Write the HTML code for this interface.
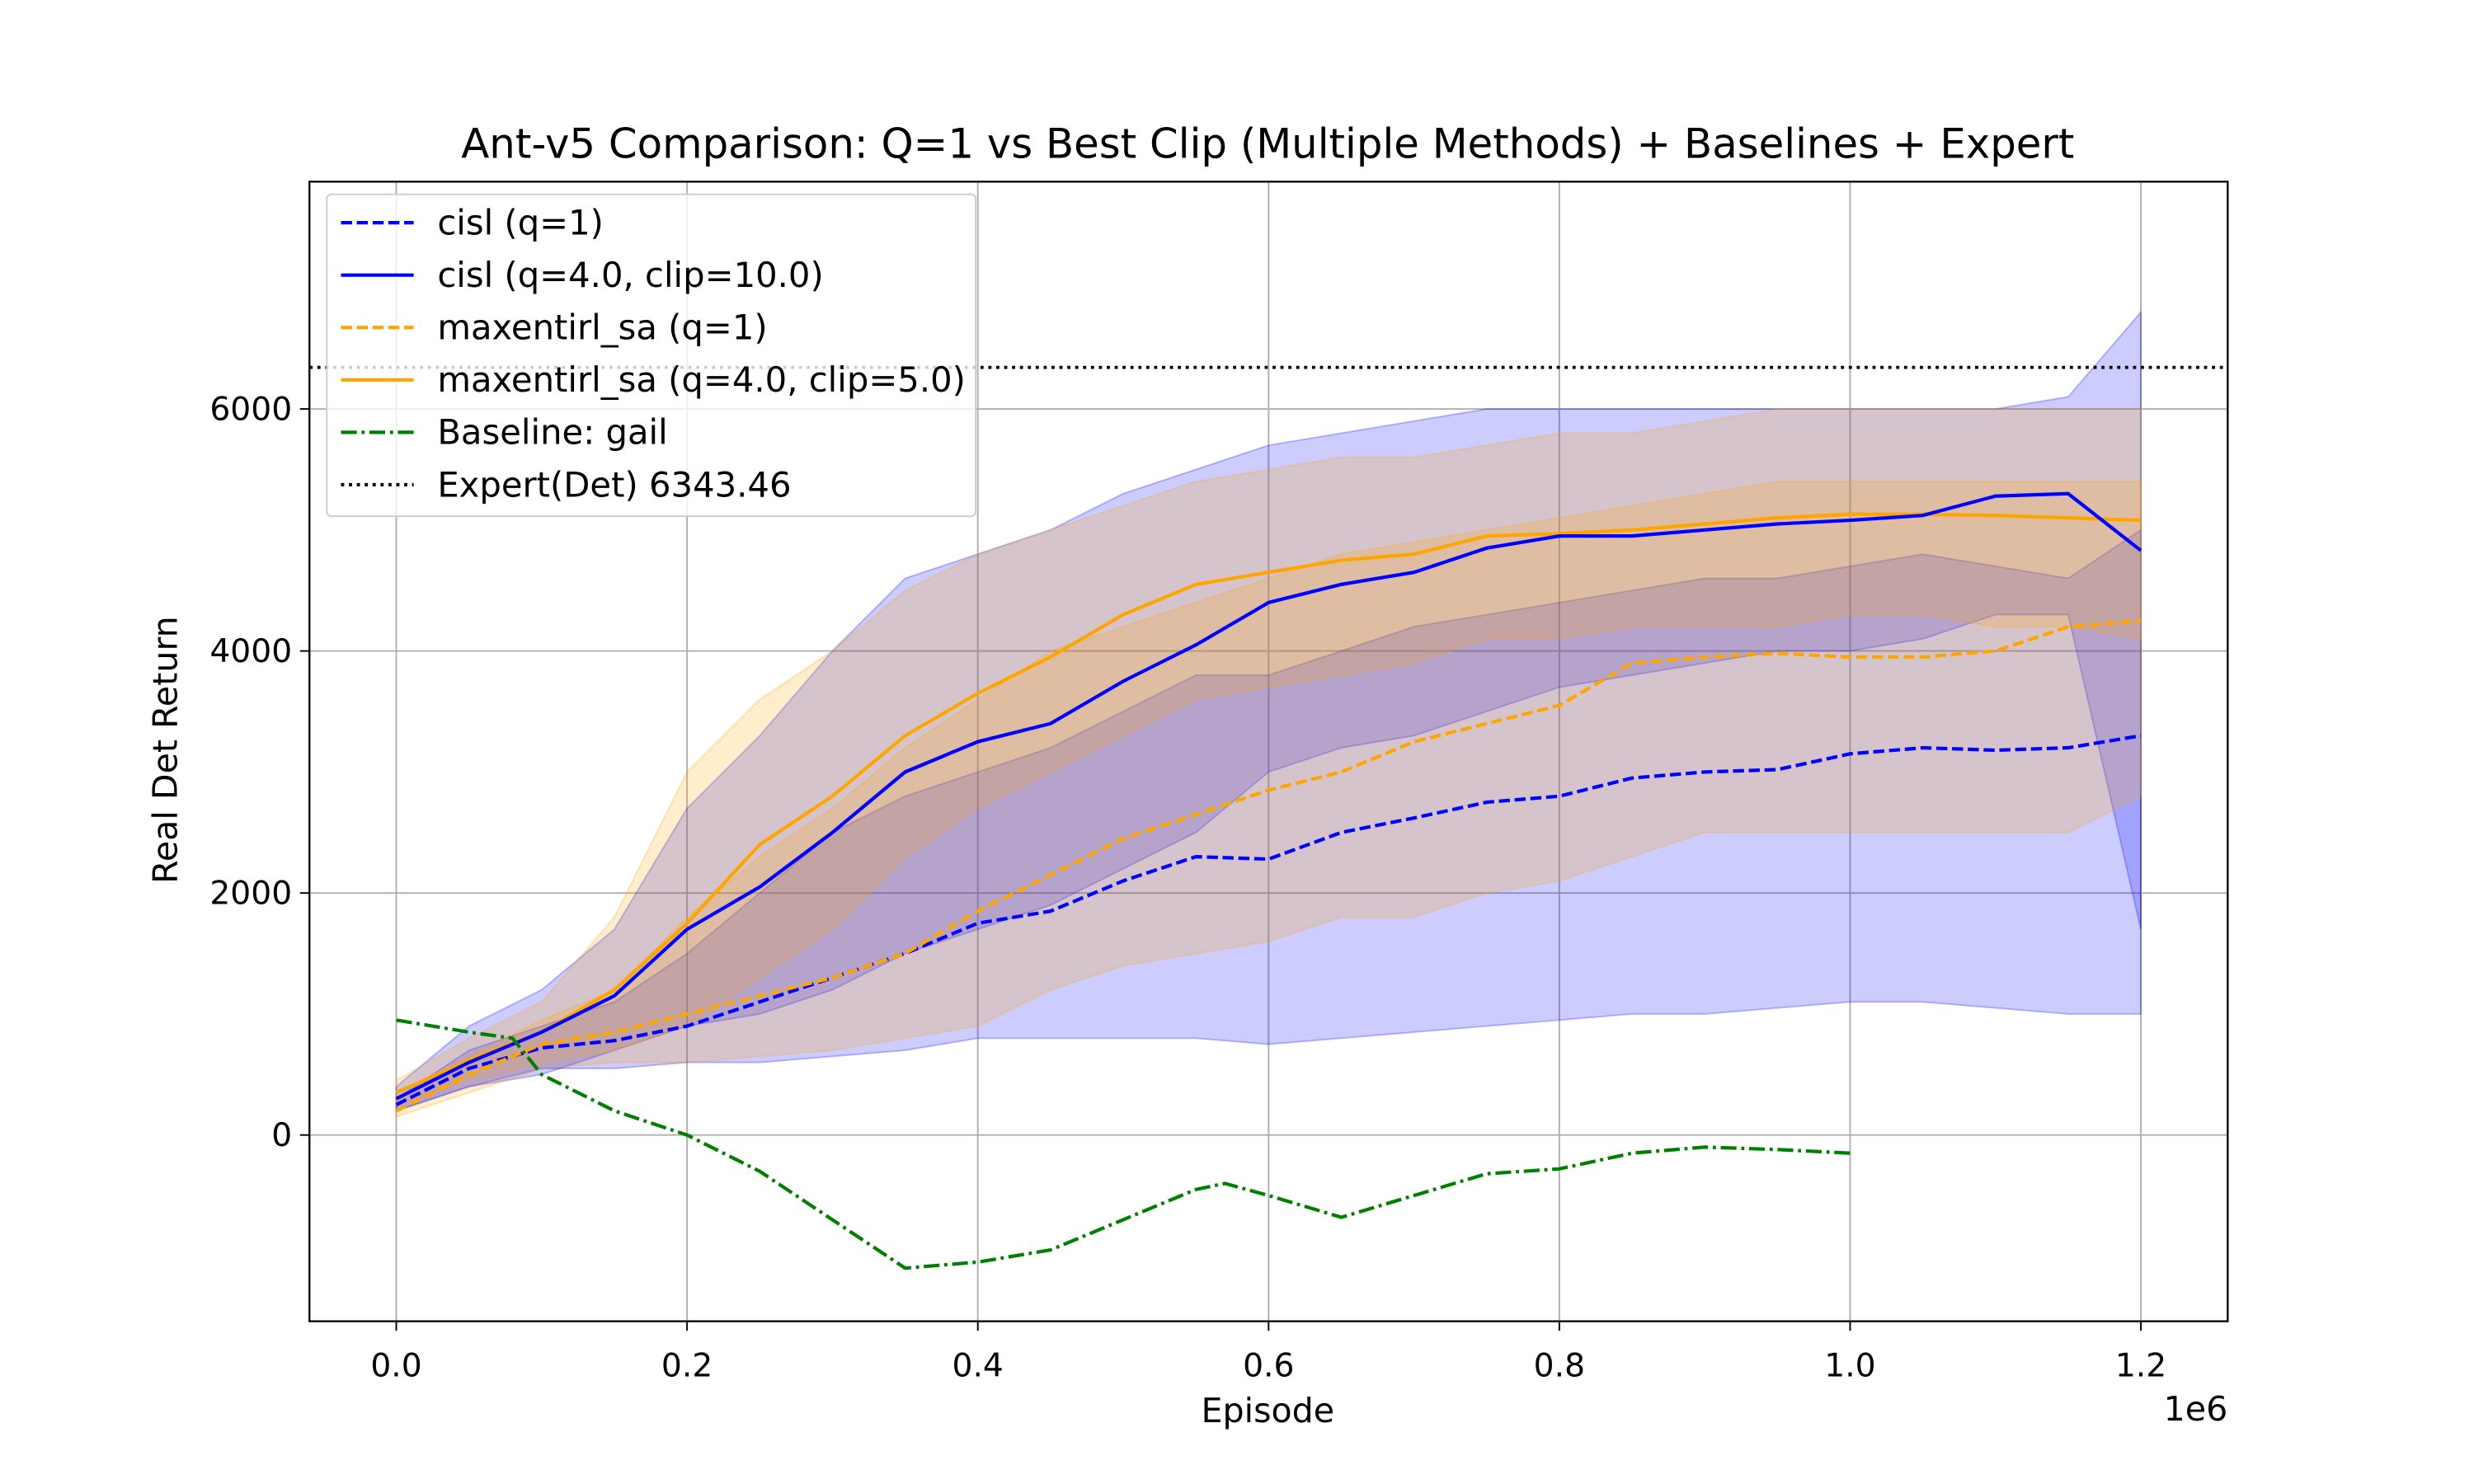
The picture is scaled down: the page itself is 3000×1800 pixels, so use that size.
<!DOCTYPE html>
<html><head><meta charset="utf-8"><style>html,body{margin:0;padding:0;background:#fff}svg{display:block}text{font-family:"DejaVu Sans","Liberation Sans",sans-serif;fill:#000}</style></head>
<body>
<svg id="chart" width="3000" height="1800" viewBox="0 0 1567 940" xmlns="http://www.w3.org/2000/svg">
<rect x="0" y="0" width="1567" height="940" fill="#fff"/>
<g id="grid"></g>
<g id="bands"></g>
<g id="lines"></g>
<rect x="196" y="115" width="1215" height="722" fill="none" stroke="#000" stroke-width="1.2"/>
<g id="ticks"></g>
<text x="803" y="100" font-size="26" text-anchor="middle">Ant-v5 Comparison: Q=1 vs Best Clip (Multiple Methods) + Baselines + Expert</text>
<text x="803" y="901" font-size="21.5" text-anchor="middle">Episode</text>
<text x="1411" y="900" font-size="21.5" text-anchor="end">1e6</text>
<text x="112" y="475" font-size="21.5" text-anchor="middle" transform="rotate(-90 112 475)">Real Det Return</text>
<g id="legend"></g>
</svg>
<script>
const xGrid = [0,0.05,0.1,0.15,0.2,0.25,0.3,0.35,0.4,0.45,0.5,0.55,0.6,0.65,0.7,0.75,0.8,0.85,0.9,0.95,1.0,1.05,1.1,1.15,1.2];
const cislQ4Mean = [300,600,850,1150,1700,2050,2500,3000,3250,3400,3750,4050,4400,4550,4650,4850,4950,4950,5000,5050,5080,5120,5280,5300,4830];
const cislQ1Mean = [250,550,720,780,900,1100,1300,1500,1750,1850,2100,2300,2280,2500,2620,2750,2800,2950,3000,3020,3150,3200,3180,3200,3300];
const maxQ4Mean = [350,620,850,1200,1750,2400,2800,3300,3650,3950,4300,4550,4650,4750,4800,4950,4970,5000,5050,5100,5130,5130,5120,5100,5080];
const maxQ1Mean = [200,500,750,850,1000,1150,1300,1500,1850,2150,2450,2650,2850,3000,3250,3400,3550,3900,3950,3980,3950,3950,4000,4200,4250];
const cislQ4Up = [400,900,1200,1700,2700,3300,4000,4600,4800,5000,5300,5500,5700,5800,5900,6000,6000,6000,6000,6000,6000,6000,6000,6100,6800];
const cislQ4Lo = [200,400,500,700,900,1000,1200,1500,1700,1900,2200,2500,3000,3200,3300,3500,3700,3800,3900,4000,4000,4100,4300,4300,1700];
const cislQ1Up = [300,700,900,1100,1500,2000,2500,2800,3000,3200,3500,3800,3800,4000,4200,4300,4400,4500,4600,4600,4700,4800,4700,4600,5000];
const cislQ1Lo = [200,400,550,550,600,600,650,700,800,800,800,800,750,800,850,900,950,1000,1000,1050,1100,1100,1050,1000,1000];
const maxQ4Up = [450,800,1100,1800,3000,3600,4000,4500,4800,5000,5200,5400,5500,5600,5600,5700,5800,5800,5900,6000,6000,6000,6000,6000,6000];
const maxQ4Lo = [250,450,600,700,900,1300,1700,2300,2700,3000,3300,3600,3700,3800,3900,4100,4100,4200,4200,4200,4300,4300,4200,4200,4100];
const maxQ1Up = [300,650,950,1200,1800,2300,2700,3200,3600,4000,4200,4400,4600,4800,4900,5000,5100,5200,5300,5400,5400,5400,5400,5400,5400];
const maxQ1Lo = [150,350,550,600,600,650,700,800,900,1200,1400,1500,1600,1800,1800,2000,2100,2300,2500,2500,2500,2500,2500,2500,2800];
const gailX = [0,0.05,0.08,0.1,0.15,0.2,0.25,0.3,0.35,0.4,0.45,0.5,0.55,0.57,0.6,0.65,0.7,0.75,0.8,0.85,0.9,0.95,1.0];
const gailY = [950,850,800,500,200,0,-300,-700,-1100,-1050,-950,-700,-450,-400,-500,-680,-500,-320,-280,-150,-100,-120,-150];
const expertValue = 6343.46;
const xTicks = [0,0.2,0.4,0.6,0.8,1.0,1.2];
const xTickLabels = ["0.0","0.2","0.4","0.6","0.8","1.0","1.2"];
const yTicks = [0,2000,4000,6000];
const yTickLabels = ["0","2000","4000","6000"];

const NS="http://www.w3.org/2000/svg";
const X = v => 251 + v*(1356-251)/1.2;
const Y = v => 719 - v*(719-259)/6000;
function mk(tag, attrs, parent){const e=document.createElementNS(NS,tag);for(const k in attrs)e.setAttribute(k,attrs[k]);document.getElementById(parent).appendChild(e);return e;}
const grid="grid", ticks="ticks";
xTicks.forEach((t,i)=>{
  const g=mk("line",{x1:X(t),x2:X(t),y1:115,y2:837,stroke:"#b0b0b0","stroke-width":1},grid);
  
  
  const tk=mk("line",{x1:X(t),x2:X(t),y1:837,y2:843,stroke:"#000","stroke-width":1},ticks);
  
  
  const tl=mk("text",{x:X(t),y:872,"font-size":20.5,"text-anchor":"middle"},ticks);
  tl.textContent=xTickLabels[i];
  
  
});
yTicks.forEach((t,i)=>{
  const g=mk("line",{x1:196,x2:1411,y1:Y(t),y2:Y(t),stroke:"#b0b0b0","stroke-width":1},grid);
  
  
  const tk=mk("line",{x1:190,x2:196,y1:Y(t),y2:Y(t),stroke:"#000","stroke-width":1},ticks);
  
  
  const tl=mk("text",{x:185,y:Y(t)+7,"font-size":20.5,"text-anchor":"end"},ticks);
  tl.textContent=yTickLabels[i];
  
  
});
function band(up,lo,color,name){
  let d="M"+xGrid.map((x,i)=>X(x)+","+Y(up[i])).join("L");
  d+="L"+xGrid.slice().reverse().map((x,j)=>X(x)+","+Y(lo[xGrid.length-1-j])).join("L")+"Z";
  const p=mk("path",{d:d,fill:color,"fill-opacity":0.2,stroke:color,"stroke-opacity":0.25,"stroke-width":1},"bands");
  
  
}
band(cislQ1Up,cislQ1Lo,"blue","band-cisl-q1");
band(cislQ4Up,cislQ4Lo,"blue","band-cisl-q4");
band(maxQ1Up,maxQ1Lo,"orange","band-maxentirl-q1");
band(maxQ4Up,maxQ4Lo,"orange","band-maxentirl-q4");
function line(xs,ys,color,dash,name){
  const p=mk("polyline",{points:xs.map((x,i)=>X(x)+","+Y(ys[i])).join(" "),fill:"none",stroke:color,"stroke-width":2.2,"stroke-dasharray":dash},"lines");
  
  
}
line(xGrid,cislQ1Mean,"blue","7,3","line-cisl-q1");
line(xGrid,maxQ1Mean,"orange","7,3","line-maxentirl-q1");
line(xGrid,maxQ4Mean,"orange","none","line-maxentirl-q4");
line(xGrid,cislQ4Mean,"blue","none","line-cisl-q4");
line(gailX,gailY,"green","10,3,2,3","line-gail");
const ex=mk("line",{x1:196,x2:1411,y1:Y(expertValue),y2:Y(expertValue),stroke:"#000","stroke-width":2,"stroke-dasharray":"2,3"},"lines");



const legendItems=[["cisl (q=1)","blue","7,3"],["cisl (q=4.0, clip=10.0)","blue","none"],["maxentirl_sa (q=1)","orange","7,3"],["maxentirl_sa (q=4.0, clip=5.0)","orange","none"],["Baseline: gail","green","10,3,2,3"],["Expert(Det) "+expertValue,"#000","2,3"]];
const lb=mk("rect",{x:207,y:123,width:411,height:204,rx:3,fill:"#fff","fill-opacity":0.8,stroke:"#ccc","stroke-width":1},"legend");


legendItems.forEach((it,i)=>{
  const y=141+i*33.2;
  const l=mk("line",{x1:216,x2:262,y1:y,y2:y,stroke:it[1],"stroke-width":2.2,"stroke-dasharray":it[2]},"legend");
  
  
  const t=mk("text",{x:277,y:y+7.5,"font-size":21.8},"legend");
  t.textContent=it[0];
  
  
});
</script>
</body></html>
